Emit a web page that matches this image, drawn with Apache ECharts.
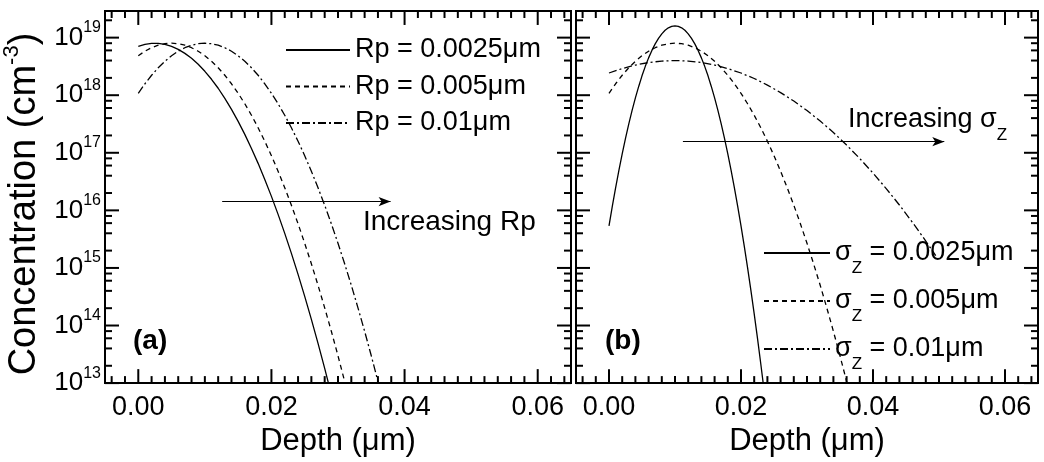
<!DOCTYPE html>
<html><head><meta charset="utf-8">
<script src="https://cdn.jsdelivr.net/npm/echarts@6/dist/echarts.min.js"></script>
<style>html,body{margin:0;padding:0;background:#fff}#c{width:1044px;height:462px}</style>
</head><body><div id="c"></div>
<script>
// ---------------- data ----------------
const depthA = [0,0.001,0.002,0.003,0.004,0.005,0.006,0.007,0.008,0.009,0.010,0.011,0.012,0.013,0.014,0.015,0.016,0.017,0.018,0.019,0.020,0.021,0.022,0.023,0.024,0.025,0.026,0.027,0.028,0.029,0.030,0.031,0.032,0.033,0.034,0.035,0.036,0.037];
// panel (a): sigma fixed, Rp varies
const rp0025 = [7.06e18,7.65e18,7.96e18,7.96e18,7.65e18,7.06e18,6.26e18,5.33e18,4.37e18,3.44e18,2.60e18,1.89e18,1.32e18,8.82e17,5.68e17,3.51e17,2.09e17,1.19e17,6.55e16,3.45e16,1.75e16,8.51e15,3.98e15,1.79e15,7.73e14,3.21e14,1.28e14,4.89e13,1.80e13,6.35e12];
const rp005 = [4.85e18,5.81e18,6.68e18,7.38e18,7.84e18,8.0e18,7.84e18,7.38e18,6.68e18,5.81e18,4.85e18,3.89e18,3.00e18,2.22e18,1.58e18,1.08e18,7.11e17,4.49e17,2.72e17,1.59e17,8.89e16,4.78e16,2.47e16,1.23e16,5.85e15,2.68e15,1.18e15,5.00e14,2.03e14,7.94e13,2.98e13,1.07e13,3.72e12];
const rp01 = [1.08e18,1.58e18,2.22e18,3.00e18,3.89e18,4.85e18,5.81e18,6.68e18,7.38e18,7.84e18,8.0e18,7.84e18,7.38e18,6.68e18,5.81e18,4.85e18,3.89e18,3.00e18,2.22e18,1.58e18,1.08e18,7.11e17,4.49e17,2.72e17,1.59e17,8.89e16,4.78e16,2.47e16,1.23e16,5.85e15,2.68e15,1.18e15,5.00e14,2.03e14,7.94e13,2.98e13,1.07e13,3.72e12];
// panel (b): Rp fixed, sigma varies
const depthB1 = [0,0.0005,0.001,0.0015,0.002,0.0025,0.003,0.0035,0.004,0.0045,0.005,0.0055,0.006,0.0065,0.007,0.0075,0.008,0.0085,0.009,0.0095,0.010,0.0105,0.011,0.0115,0.012,0.0125,0.013,0.0135,0.014,0.0145,0.015,0.0155,0.016,0.0165,0.017,0.0175,0.018,0.0185,0.019,0.0195,0.020,0.0205,0.021,0.0215,0.022,0.0225,0.023,0.0235];
const sz0025 = [5.37e15,1.17e16,2.45e16,4.94e16,9.57e16,1.78e17,3.18e17,5.45e17,8.98e17,1.42e18,2.17e18,3.17e18,4.45e18,6.00e18,7.79e18,9.70e18,1.16e19,1.34e19,1.48e19,1.57e19,1.60e19,1.57e19,1.48e19,1.34e19,1.16e19,9.70e18,7.79e18,6.00e18,4.45e18,3.17e18,2.17e18,1.42e18,8.98e17,5.45e17,3.18e17,1.78e17,9.57e16,4.94e16,2.45e16,1.17e16,5.37e15,2.37e15,1.00e15,4.07e14,1.59e14,5.97e13,2.15e13,7.46e12];
const depthB2 = depthA;
const sz005 = [1.08e18,1.58e18,2.22e18,3.00e18,3.89e18,4.85e18,5.81e18,6.68e18,7.38e18,7.84e18,8.0e18,7.84e18,7.38e18,6.68e18,5.81e18,4.85e18,3.89e18,3.00e18,2.22e18,1.58e18,1.08e18,7.11e17,4.49e17,2.72e17,1.59e17,8.89e16,4.78e16,2.47e16,1.23e16,5.85e15,2.68e15,1.18e15,5.00e14,2.03e14,7.94e13,2.98e13,1.07e13,3.72e12];
const depthB3 = [0,0.002,0.004,0.006,0.008,0.010,0.012,0.014,0.016,0.018,0.020,0.022,0.024,0.026,0.028,0.030,0.032,0.034,0.036,0.038,0.040,0.042,0.044,0.046,0.048,0.0495];
const sz01 = [2.43e18,2.90e18,3.34e18,3.69e18,3.92e18,4.00e18,3.92e18,3.69e18,3.34e18,2.90e18,2.43e18,1.95e18,1.50e18,1.11e18,7.91e17,5.41e17,3.56e17,2.25e17,1.36e17,7.94e16,4.44e16,2.39e16,1.24e16,6.14e15,2.93e15,1.64e15];

const namesA = ['Rp = 0.0025\u03bcm','Rp = 0.005\u03bcm','Rp = 0.01\u03bcm'];
const namesB = ['\u03c3z = 0.0025\u03bcm','\u03c3z = 0.005\u03bcm','\u03c3z = 0.01\u03bcm'];
const xTickLabels = [0, 0.02, 0.04, 0.06];
const yTickLabels = [1e13,1e14,1e15,1e16,1e17,1e18,1e19];
// arrows (data coordinates)
const arrowA = {x0: 0.0126, x1: 0.0379, y: 1.42e16};
const arrowB = {x0: 0.0112, x1: 0.0508, y: 1.56e17};

// ---------------- layout / style ----------------
const FONT = '"Liberation Sans", Arial, Helvetica, sans-serif';
const X_MIN = -0.005, X_MAX = 0.065, Y_MIN = 1e13, Y_MAX = 2.9e19;
const xMinor = [];
for (let k = -2; k <= 32; k++) { if (k % 10 !== 0) xMinor.push(+(k * 0.002).toFixed(3)); }
const yMinor = [];
for (let e = 13; e <= 19; e++) { [2,4,6,8].forEach(m => { const v = m * Math.pow(10, e); if (v < Y_MAX) yMinor.push(v); }); }
const MAJOR = 14, MINOR = 7;

const black = '#000';
const grids = [
  {left: 105, top: 11, width: 466, height: 373, show: true, borderColor: black, borderWidth: 2},
  {left: 576, top: 11, width: 462, height: 373, show: true, borderColor: black, borderWidth: 2}
];
function xAxisOf(g) {
  return {type: 'value', gridIndex: g, min: X_MIN, max: X_MAX, position: 'bottom', splitLine: {show: false},
    axisLine: {show: true, onZero: false, lineStyle: {color: black, width: 2}}, axisTick: {show: false}, minorTick: {show: false},
    axisLabel: {show: true, customValues: xTickLabels, formatter: v => (+v).toFixed(2), fontSize: 27, fontFamily: FONT, color: black, margin: 11},
    name: 'Depth (\u03bcm)', nameLocation: 'middle', nameGap: 37,
    nameTextStyle: {fontSize: 31, fontFamily: FONT, color: black}};
}
function yAxisOf(g) {
  return {type: 'log', logBase: 10, gridIndex: g, min: Y_MIN, max: Y_MAX, position: 'left', splitLine: {show: false},
    axisLine: {show: true, onZero: false, lineStyle: {color: black, width: 2}}, axisTick: {show: false}, minorTick: {show: false},
    axisLabel: {show: g === 0, customValues: yTickLabels, margin: 4,
      formatter: v => '{b|10}{s|' + Math.round(Math.log10(v)) + '}',
      rich: {b: {fontSize: 26, lineHeight: 26, fontFamily: FONT, color: black},
             s: {fontSize: 16, lineHeight: 16, fontFamily: FONT, color: black, padding: [0, 0, 20, 0]}}}};
}
const DASH = [5, 4];
const DASHDOT = [8, 3, 2, 3];
function zip(xs, ys) { return ys.map((y, i) => [xs[i], y]); }
function lineSeries(name, g, xs, ys, type, arrow) {
  const s = {type: 'line', name, xAxisIndex: g, yAxisIndex: g, data: zip(xs, ys),
    symbol: 'none', smooth: false, clip: true, silent: true,
    lineStyle: {color: black, width: 1.3, type: type}, emphasis: {disabled: true}};
  if (arrow) {
    s.markLine = {silent: true, symbol: ['none', 'arrow'], symbolSize: [7, 12], animation: false,
      label: {show: false}, lineStyle: {color: black, width: 1.2, type: 'solid'},
      emphasis: {disabled: true},
      data: [[{coord: [arrow.x0, arrow.y]}, {coord: [arrow.x1, arrow.y]}]]};
  }
  return s;
}
// tick marks: each one a short two-point line series in data space, drawn by the axes' own scales.
// Pixel lengths are turned into data-space lengths from the grid size and the axis ranges.
function tickSeries(g) {
  const ppd = grids[g].height / Math.log10(Y_MAX / Y_MIN);             // pixels per decade
  const upF = len => Math.pow(10, len / ppd);
  const dX = len => len * (X_MAX - X_MIN) / grids[g].width;
  const segs = [];
  const xt = xTickLabels.map(v => [v, MAJOR]).concat(xMinor.map(v => [v, MINOR]));
  const yt = yTickLabels.map(v => [v, MAJOR]).concat(yMinor.map(v => [v, MINOR]));
  xt.forEach(([v, len]) => {
    segs.push([[v, Y_MIN], [v, Y_MIN * upF(len)]]);
    segs.push([[v, Y_MAX], [v, Y_MAX / upF(len)]]);
  });
  yt.forEach(([v, len]) => {
    segs.push([[X_MIN, v], [X_MIN + dX(len), v]]);
    segs.push([[X_MAX, v], [X_MAX - dX(len), v]]);
  });
  return segs.map((d, i) => ({type: 'line', name: 'tick' + g + '_' + i, xAxisIndex: g, yAxisIndex: g, data: d,
    symbol: 'none', silent: true, clip: false, z: 4, animation: false,
    lineStyle: {color: black, width: 2, type: 'solid'}, emphasis: {disabled: true}}));
}
const series = [
  lineSeries(namesA[0], 0, depthA, rp0025, 'solid', arrowA),
  lineSeries(namesA[1], 0, depthA, rp005, DASH),
  lineSeries(namesA[2], 0, depthA, rp01, DASHDOT),
  lineSeries(namesB[0], 1, depthB1, sz0025, 'solid', arrowB),
  lineSeries(namesB[1], 1, depthB2, sz005, DASH),
  lineSeries(namesB[2], 1, depthB3, sz01, DASHDOT)
].concat(tickSeries(0), tickSeries(1));
const richSigma = {
  g: {fontSize: 27, lineHeight: 27, fontFamily: FONT, color: black},
  z: {fontSize: 17, lineHeight: 17, fontFamily: FONT, color: black, padding: [31, 0, 0, 0]},
  t: {fontSize: 27, lineHeight: 27, fontFamily: FONT, color: black}
};
const texts = [
  {type: 'text', x: 25, y: 204, rotation: Math.PI / 2,
   style: {text: 'Concentration (cm{sup|-3})', align: 'center', verticalAlign: 'middle',
     fontSize: 38, fontFamily: FONT, fill: black,
     rich: {sup: {fontSize: 22, lineHeight: 22, fontFamily: FONT, fill: black, padding: [0, 0, 26, 0]}}}},
  {type: 'text', x: 133, y: 341,
   style: {text: '(a)', align: 'left', verticalAlign: 'middle', fontSize: 28, fontWeight: 'bold', fontFamily: FONT, fill: black}},
  {type: 'text', x: 605, y: 341,
   style: {text: '(b)', align: 'left', verticalAlign: 'middle', fontSize: 28, fontWeight: 'bold', fontFamily: FONT, fill: black}},
  {type: 'text', x: 363, y: 222,
   style: {text: 'Increasing Rp', align: 'left', verticalAlign: 'middle', fontSize: 28, fontFamily: FONT, fill: black}},
  {type: 'text', x: 848, y: 120,
   style: {text: '{t|Increasing \u03c3}{z|Z}', align: 'left', verticalAlign: 'middle', fontSize: 28, fontFamily: FONT, fill: black,
     rich: richSigma}}
];
const option = {
  animation: false,
  backgroundColor: '#fff',
  grid: grids,
  xAxis: [xAxisOf(0), xAxisOf(1)],
  yAxis: [yAxisOf(0), yAxisOf(1)],
  legend: [
    {data: namesA, orient: 'vertical', left: 285, top: 35, padding: 0, itemWidth: 64, itemHeight: 14, itemGap: 6.5,
     selectedMode: false, itemStyle: {opacity: 0},
     textStyle: {fontSize: 27, lineHeight: 30, fontFamily: FONT, color: black}},
    {data: namesB, orient: 'vertical', left: 763, top: 229, padding: 0, itemWidth: 66, itemHeight: 14, itemGap: 0,
     selectedMode: false, itemStyle: {opacity: 0},
     formatter: n => '{g|\u03c3}{z|Z}{t|' + n.slice(2) + '}',
     textStyle: {fontSize: 27, fontFamily: FONT, color: black, rich: richSigma}}
  ],
  graphic: texts,
  series: series
};
const chart = echarts.init(document.getElementById('c'), null, {renderer: 'canvas'});
chart.setOption(option);
</script>
</body></html>
